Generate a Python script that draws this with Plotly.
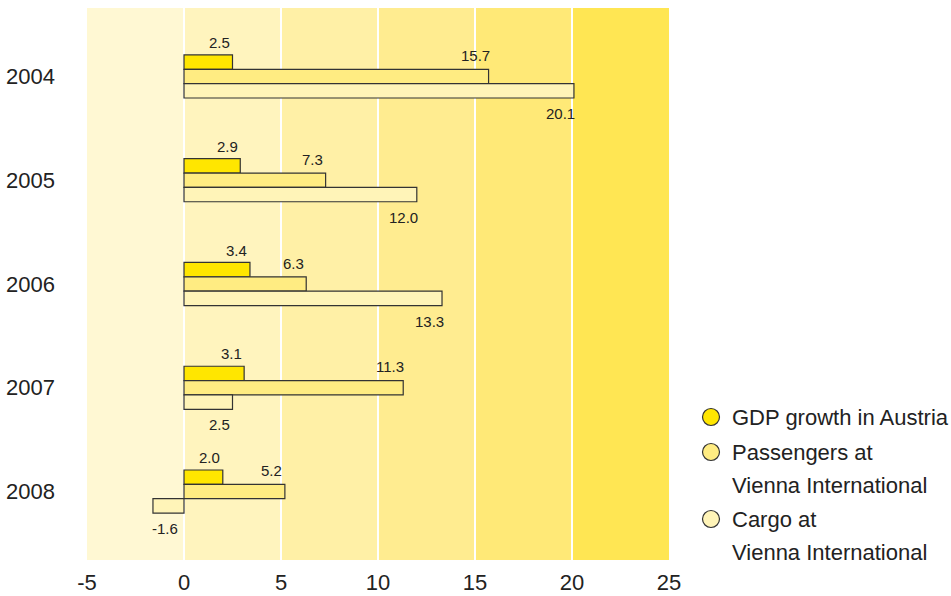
import plotly.graph_objects as go

# --- Datos ---
anios = ["2004", "2005", "2006", "2007", "2008"]
pib = [2.5, 2.9, 3.4, 3.1, 2.0]
pasajeros = [15.7, 7.3, 6.3, 11.3, 5.2]
carga = [20.1, 12.0, 13.3, 2.5, -1.6]

nombres = ["GDP growth in Austria", "Passengers at<br>Vienna International", "Cargo at<br>Vienna International"]
colores = ["#FFE600", "#FFEC82", "#FFF4B8"]

ticks_x = [-5, 0, 5, 10, 15, 20, 25]
etiquetas_x = ["-5", "0", "5", "10", "15", "20", "25"]

# bandas de fondo (límites en el eje x) y sus colores
bandas = [-5, 0, 5, 10, 15, 20, 25]
colores_banda = ["#FFF8D3", "#FFF4BE", "#FFF0A6", "#FFEC90", "#FFE977", "#FFE653"]

FUENTE = "Liberation Sans"

fig = go.Figure()

series = [pib, pasajeros, carga]
for serie, nombre, color in zip(series, nombres, colores):
    fig.add_trace(go.Bar(
        x=serie,
        y=anios,
        orientation='h',
        name=nombre,
        marker_color=color,
        marker_line_color='#333333',
        marker_line_width=1.2,
        showlegend=False,
    ))

# --- Etiquetas de valores ---
desplaz_y = [34, 21, -37]
for serie, dy in zip(series, desplaz_y):
    for i, v in enumerate(serie):
        fig.add_annotation(
            x=v, y=i, text=f"{v:.1f}", showarrow=False,
            xshift=-13 if v >= 0 else 12, yshift=dy,
            font=dict(family=FUENTE, size=15, color="#222222"),
        )

# --- Bandas de fondo ---
for x0, x1, c in zip(bandas[:-1], bandas[1:], colores_banda):
    fig.add_shape(type='rect', xref='x', yref='paper', x0=x0, x1=x1, y0=0, y1=1,
                  fillcolor=c, line_width=0, layer='below')

# --- Leyenda manual ---
leyenda_y = [417, 452, 519]
for nombre, color, yp in zip(nombres, colores, leyenda_y):
    yc = 1 - (yp - 8) / 552
    fig.add_shape(type='circle', xref='paper', yref='paper',
                  xsizemode='pixel', ysizemode='pixel',
                  xanchor=(711 - 87) / 582, yanchor=yc,
                  x0=-8.5, x1=8.5, y0=-8.5, y1=8.5,
                  fillcolor=color, line=dict(color='#333333', width=1.2))
    lineas = nombre.split("<br>")
    for i, linea in enumerate(lineas):
        fig.add_annotation(
            xref='paper', yref='paper', x=(730 - 87) / 582, y=1 - (yp + i * 33 - 8) / 552,
            text=linea, showarrow=False, xanchor='left', yanchor='middle',
            font=dict(family=FUENTE, size=22, color="#222222"),
        )

fig.update_layout(
    width=951, height=596,
    barmode='group',
    bargap=0.585,
    bargroupgap=0,
    paper_bgcolor='white',
    plot_bgcolor='rgba(0,0,0,0)',
    font=dict(family=FUENTE, size=22, color="#222222"),
    margin=dict(l=87, r=282, t=8, b=36, autoexpand=False),
    showlegend=False,
    xaxis=dict(range=[-5, 25], tickvals=ticks_x, ticktext=etiquetas_x,
               showgrid=True, gridcolor='white', gridwidth=2,
               zeroline=False, showline=False, ticks='', ticklabelstandoff=7,
               tickfont=dict(size=22)),
    yaxis=dict(type='category', categoryorder='array', categoryarray=anios,
               range=[4.66, -0.66], showgrid=False, zeroline=False, showline=False,
               ticks='', ticklabelstandoff=31, tickfont=dict(size=22)),
)

fig.write_html("out.html", config={"displayModeBar": False},
               post_script="document.body.style.margin='0';")
